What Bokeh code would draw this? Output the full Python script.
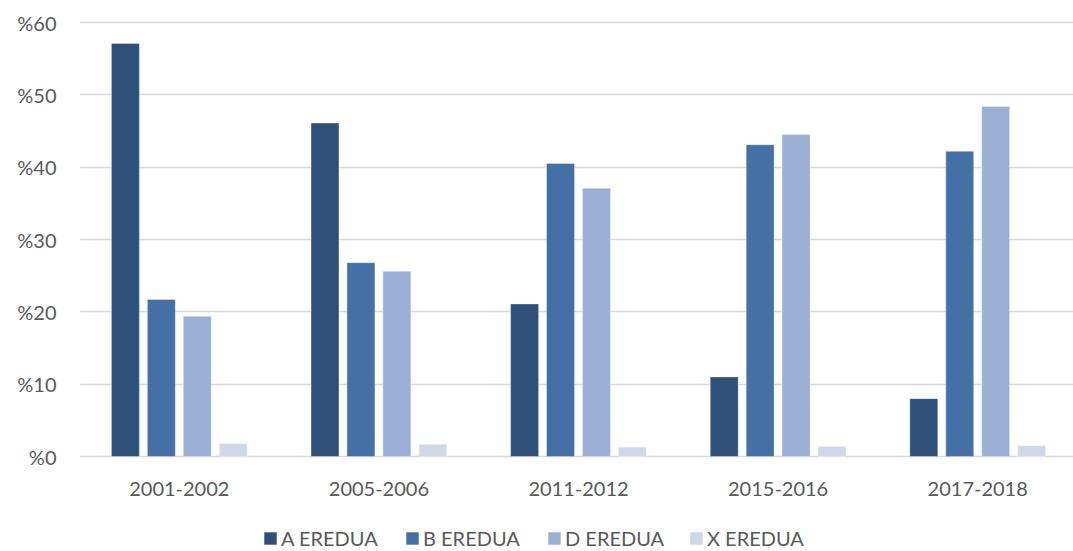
from bokeh.plotting import figure
from bokeh.models import ColumnDataSource, Range1d, FixedTicker, Legend, LegendItem
from bokeh.core.properties import value
from bokeh.transform import dodge
from bokeh.embed import file_html
from bokeh.resources import INLINE

categories = ["2001-2002", "2005-2006", "2011-2012", "2015-2016", "2017-2018"]
series_names = ["A EREDUA", "B EREDUA", "D EREDUA", "X EREDUA"]
a_eredua = [57.1, 46.1, 21.1, 11.0, 8.0]
b_eredua = [21.7, 26.8, 40.5, 43.1, 42.2]
d_eredua = [19.4, 25.6, 37.1, 44.5, 48.4]
x_eredua = [1.8, 1.7, 1.3, 1.4, 1.5]
y_ticks = [0, 10, 20, 30, 40, 50, 60]
y_tick_labels = ["%0", "%10", "%20", "%30", "%40", "%50", "%60"]
colors = ["#2F5179", "#4470A5", "#9AAFD3", "#D0D8E8"]

FONT = "Lato"
TXT = "#595959"

# pixel geometry (used only for the ranges): 60 units span 434 px
PX_PER_UNIT = 434 / 60
xs = [i + 0.5 for i in range(len(categories))]
source = ColumnDataSource(dict(x=xs, a=a_eredua, b=b_eredua, d=d_eredua, xx=x_eredua,
                               base=[0] * len(categories), cat=categories))

p = figure(width=1073, height=551, output_backend="svg", toolbar_location=None,
           x_range=Range1d(0, 994 / 199.6),
           y_range=Range1d(-95 / PX_PER_UNIT, 60 + 3 / PX_PER_UNIT),
           x_axis_location=None,
           min_border_left=79, min_border_top=19, min_border_bottom=0, min_border_right=0)

cols = ["a", "b", "d", "xx"]
offsets = [-0.27, -0.09, 0.09, 0.27]
renderers = []
for col, off, c in zip(cols, offsets, colors):
    r = p.vbar(x=dodge("x", off), top=col, width=0.14, bottom=0, source=source,
               fill_color=c, line_color="white", line_alpha=0.35, line_width=1)
    renderers.append(r)

# category labels under the baseline
p.text(x="x", y="base", text="cat", source=source, text_align="center", text_baseline="middle",
       y_offset=32, text_font=value(FONT), text_font_size="20px", text_color=TXT)

p.outline_line_color = None
p.xgrid.grid_line_color = None
p.ygrid.grid_line_color = "#D9D9D9"
p.ygrid.grid_line_width = 1.3
p.ygrid.ticker = FixedTicker(ticks=y_ticks)

p.yaxis.ticker = FixedTicker(ticks=y_ticks)
p.yaxis.major_label_overrides = {t: l for t, l in zip(y_ticks, y_tick_labels)}
p.yaxis.axis_line_color = None
p.yaxis.major_tick_line_color = None
p.yaxis.minor_tick_line_color = None
p.yaxis.major_label_standoff = 17
p.yaxis.major_label_text_font = FONT
p.yaxis.major_label_text_font_size = "20px"
p.yaxis.major_label_text_color = TXT

legend = Legend(items=[LegendItem(label=n, renderers=[r]) for n, r in zip(series_names, renderers)],
                orientation="horizontal", location=(183, 1),
                glyph_width=16, glyph_height=16, label_standoff=3, label_width=100, spacing=23,
                label_text_font=FONT, label_text_font_size="20px", label_text_color=TXT,
                padding=0, margin=0, border_line_color=None, background_fill_alpha=0,
                label_height=20)
p.add_layout(legend, "center")

open("out.html", "w").write(file_html(p, INLINE))
